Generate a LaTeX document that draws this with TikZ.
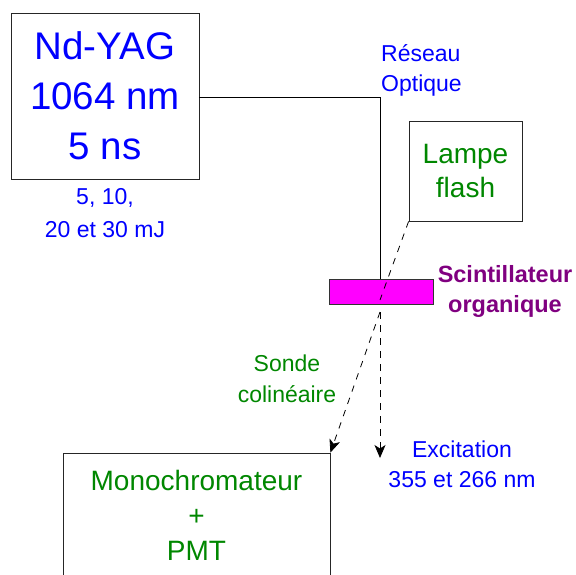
\documentclass[tikz,border=0pt]{standalone}
\usepackage{fontspec}
\setmainfont{Liberation Sans}
\usetikzlibrary{arrows.meta,positioning}
\definecolor{labgreen}{RGB}{0,135,0}
\definecolor{labpurple}{RGB}{128,0,128}
\definecolor{scintpink}{RGB}{255,0,255}
\definecolor{labblue}{RGB}{0,0,255}

\begin{document}
\begin{tikzpicture}[x=1pt, y=-1pt,
  unit/.style={draw=black!85, line width=0.8pt, inner sep=0pt, align=center},
  bluetxt/.style={text=labblue, align=center, inner sep=0pt, font=\fontsize{23}{30}\selectfont},
  greentxt/.style={text=labgreen, align=center, inner sep=0pt, font=\fontsize{23}{31}\selectfont},
  beam/.style={line width=0.8pt},
  light/.style={line width=0.8pt, dash pattern=on 6.5pt off 6.5pt},
  arr/.style={light, -{Stealth[length=13pt, width=11pt, inset=3.5pt]}}
]
  \useasboundingbox (0,0) rectangle (576,574);
  \clip (0,0) rectangle (576,574);

  % appareils
  \node[unit, text=labblue, minimum width=188pt, minimum height=166pt,
        font=\fontsize{38.5}{50}\selectfont] (yag) at (105,96) {Nd-YAG\\1064 nm\\5 ns};
  \node[unit, text=labgreen, minimum width=113pt, minimum height=100pt,
        font=\fontsize{28}{34}\selectfont] (lamp) at (465.5,171) {Lampe\\flash};
  \node[draw=black!80, fill=scintpink, line width=0.8pt, minimum width=104pt,
        minimum height=25pt, inner sep=0pt] (scint) at (381,291.5) {};
  \node[unit, text=labgreen, minimum width=267pt, minimum height=124pt,
        font=\fontsize{28}{35}\selectfont] (mono) at (196.5,515) {Monochromateur\\+\\PMT};

  % textes
  \node[bluetxt, font=\fontsize{23}{33}\selectfont] (energy) at (105,213) {5, 10,\\20 et 30 mJ};
  \node[bluetxt, align=left, anchor=west] (reseau) at (381,70) {Réseau\\Optique};
  \node[text=labpurple, align=center, inner sep=0pt,
        font=\bfseries\fontsize{23.5}{30}\selectfont] (scintlab) at (505,291) {Scintillateur\\organique};
  \node[greentxt] (sonde) at (287,379) {Sonde\\colinéaire};
  \node[bluetxt] (excit) at (462,464) {Excitation\\355 et 266 nm};

  % faisceaux
  \coordinate (grating) at (380,97);
  \draw[beam] (yag.east |- grating) -- (grating) -- (grating |- scint.north);
  \coordinate (hit) at (380,300);
  \coordinate (out) at (380,312);
  \coordinate (down) at (380,458);
  \draw[light] (lamp.south west) -- (hit);
  \draw[arr] (out) -- (mono.north east);
  \draw[arr] (out) -- (down);
\end{tikzpicture}
\end{document}
